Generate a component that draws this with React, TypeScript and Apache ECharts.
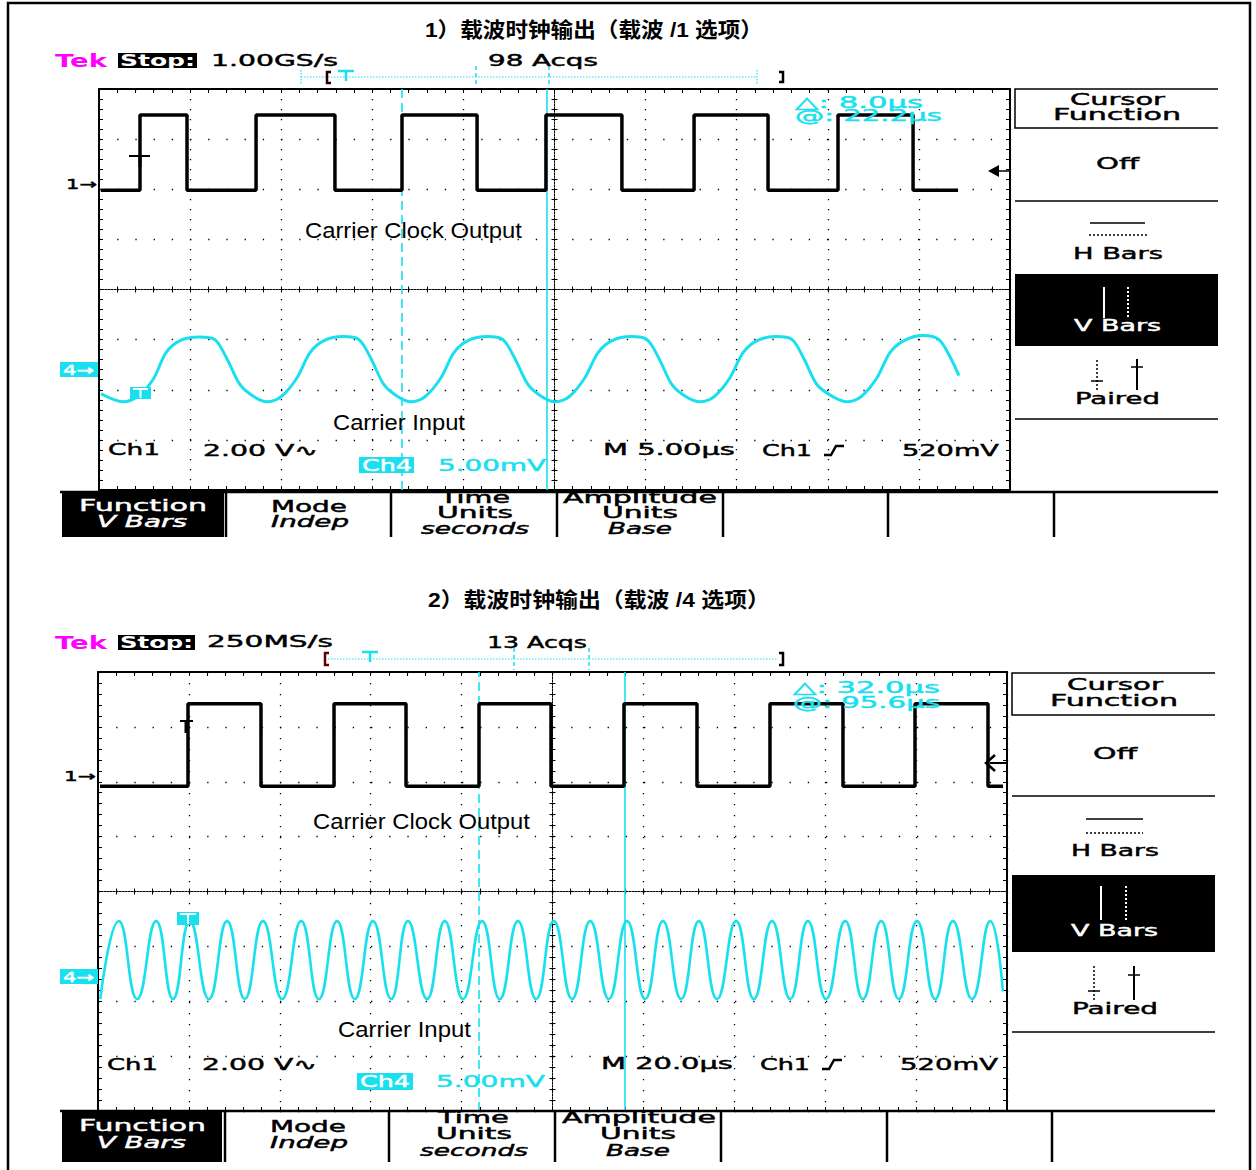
import React, { useEffect, useRef } from 'react';
import * as echarts from 'echarts';

// ---------------- Data ----------------
// Time in µs from the screen centre, levels in vertical divisions (8 div screen).
// Panel 1: M 5.00 µs/div
const p1Ch1EdgeTimes = [-24.9, -22.75, -20.17, -16.38, -12.05, -8.37, -4.25, -0.47, 3.7, 7.66, 11.72, 15.56, 19.68, 22.15];
const p1Ch1Levels = [1.98, 3.48, 1.98, 3.48, 1.98, 3.48, 1.98, 3.48, 1.98, 3.48, 1.98, 3.48, 1.98, 1.98];
const p1Ch4Times = [
  -24.89, -23.68, -22.91, -22.04, -21.32, -20.55, -19.51, -18.64, -17.98, -17.26, -16.49,
  -15.78, -15.01, -14.13, -13.42, -12.65, -11.61, -10.73, -10.07, -9.36, -8.59,
  -7.88, -7.11, -6.23, -5.52, -4.75, -3.7, -2.83, -2.17, -1.45, -0.69,
  0.03, 0.8, 1.67, 2.39, 3.16, 4.2, 5.08, 5.74, 6.45, 7.22,
  7.99, 8.76, 9.63, 10.35, 11.12, 12.16, 13.04, 13.69, 14.41, 15.29,
  16.05, 16.82, 17.7, 18.41, 19.18, 20.22, 21.1, 21.76, 22.2,
];
const p1Ch4Levels = [
  -2.08, -2.24, -2.14, -1.8, -1.26, -1.02, -0.95, -1.0, -1.38, -1.9, -2.14,
  -2.24, -2.14, -1.76, -1.26, -1.02, -0.94, -1.0, -1.38, -1.9, -2.14,
  -2.24, -2.14, -1.76, -1.26, -1.02, -0.94, -1.0, -1.38, -1.9, -2.14,
  -2.24, -2.14, -1.76, -1.26, -1.02, -0.94, -1.0, -1.38, -1.9, -2.14,
  -2.24, -2.14, -1.76, -1.26, -1.02, -0.94, -1.0, -1.38, -1.9, -2.14,
  -2.24, -2.14, -1.76, -1.26, -1.02, -0.92, -1.0, -1.38, -1.72,
];
const p1CursorTimes = [-8.4, -0.4];

// Panel 2: M 20.0 µs/div
const p2Ch1EdgeTimes = [-99.56, -80.2, -64.14, -48.07, -32.23, -16.17, -0.33, 15.73, 31.79, 47.85, 63.91, 79.76, 95.82, 99.12];
const p2Ch1Levels = [1.92, 3.42, 1.92, 3.42, 1.92, 3.42, 1.92, 3.42, 1.92, 3.42, 1.92, 3.42, 1.92, 1.92];
const p2Ch4PeakTimes = [-95.4, -87.2, -79.8, -71.6, -63.7, -55.3, -47.4, -39.5, -31.8, -23.7, -15.5, -7.6, 0.3, 8.3, 16.4, 24.3, 32.2, 40.4, 48.3, 56.2, 64.4, 72.3, 80.2, 88.1, 96.3];
const p2Ch4TroughTimes = [-99.5, -91.4, -83.5, -75.6, -67.7, -59.5, -51.4, -43.5, -35.5, -27.6, -19.7, -11.6, -3.6, 4.3, 12.4, 20.4, 28.3, 36.2, 44.3, 52.3, 60.2, 68.3, 76.2, 84.2, 92.3];
const p2Ch4PeakLevel = -0.54;
const p2Ch4TroughLevel = -1.96;
const p2Ch4EndPoint = [99.1, -1.82];
const p2CursorTimes = [-16.2, 15.8];

// ---------------- Styling helpers ----------------
const CYAN = '#18e0ee';
const MAGENTA = '#ff00ff';
const SCOPE = "'DejaVu Sans'";
const ARIAL = "'Liberation Sans'";
const CJK = "'Liberation Sans','Noto Sans CJK SC'";

let mctx: CanvasRenderingContext2D | null = null;
function measure(text: string, font: string) {
  if (!mctx) mctx = document.createElement('canvas').getContext('2d');
  if (!mctx) return 0;
  mctx.font = font;
  return mctx.measureText(text).width;
}

type TOpt = { size?: number; color?: string; weight?: string; italic?: boolean; family?: string; z?: number; stroke?: number };
function txt(text: string, x: number, y: number, w: number, o: TOpt = {}) {
  const font = `${o.italic ? 'italic' : 'normal'} ${o.weight ?? 'normal'} ${o.size ?? 16}px ${o.family ?? SCOPE}`;
  const m = measure(text, font) || w;
  const color = o.color ?? '#000';
  const style: any = {
    text, font, fill: color,
    textAlign: 'left', textVerticalAlign: 'middle', align: 'left', verticalAlign: 'middle',
  };
  const sw = o.stroke ?? 0.45;
  if (sw > 0) {
    style.stroke = color;
    style.lineWidth = sw;
  }
  return { type: 'text', x, y, scaleX: w / m, z: o.z ?? 110, silent: true, style };
}
function ln(x1: number, y1: number, x2: number, y2: number, color = '#000', width = 1.5, dash?: number[], z = 105) {
  const style: any = { stroke: color, lineWidth: width };
  if (dash) style.lineDash = dash;
  return { type: 'line', z, silent: true, shape: { x1, y1, x2, y2 }, style };
}
function box(x: number, y: number, width: number, height: number, fill: string, z = 105) {
  return { type: 'rect', z, silent: true, shape: { x, y, width, height }, style: { fill } };
}
function poly(points: number[][], color = '#000', width = 1.5, z = 105) {
  return { type: 'polyline', z, silent: true, shape: { points }, style: { stroke: color, lineWidth: width, fill: null } };
}

function buildGraphics() {
  const g: any[] = [];
  // outer frame
  g.push({ type: 'rect', z: 100, silent: true, shape: { x: 8, y: 3, width: 1242, height: 1200 }, style: { fill: null, stroke: '#000', lineWidth: 2.5 } });

  // ======== Panel 1 ========
  g.push(txt('1）载波时钟输出（载波 /1 选项）', 425, 30, 338, { size: 21, family: CJK, weight: 'bold', stroke: 0 }));
  g.push(txt('Tek', 55, 60, 52, { color: MAGENTA, size: 18, weight: 'bold', stroke: 0 }));
  g.push(box(118, 53, 79, 15, '#000'));
  g.push(txt('Stop:', 120, 60.5, 75, { color: '#fff', z: 111, weight: 'bold', stroke: 0 }));
  g.push(txt('1.00GS/s', 211, 60, 127));
  g.push(txt('98 Acqs', 488, 60, 110));
  g.push(ln(301, 77, 757, 77, CYAN, 1.2, [1.5, 1.5]));
  g.push(ln(301, 70, 301, 84, CYAN, 1.2, [1.5, 1.5]));
  g.push(ln(757, 70, 757, 84, CYAN, 1.2, [1.5, 1.5]));
  g.push(ln(476, 66, 476, 87, CYAN, 1.5, [4, 3]));
  g.push(ln(549, 66, 549, 87, CYAN, 1.5, [4, 3]));
  g.push(poly([[331, 72], [327, 72], [327, 83], [331, 83]], '#200', 2.5));
  g.push(ln(338, 71, 354, 71, CYAN, 2.5));
  g.push(ln(346, 71, 346, 81, CYAN, 2.5));
  g.push(poly([[779, 72], [783, 72], [783, 82], [779, 82]], '#000', 2.5));

  g.push(txt('1→', 66, 184, 31, { size: 14 }));
  g.push(box(60, 362, 38, 15, CYAN));
  g.push(txt('4→', 63, 369.5, 31, { size: 14, color: '#fff', z: 111 }));
  g.push({ type: 'polygon', z: 105, silent: true, shape: { points: [[988, 171], [999, 165], [999, 177]] }, style: { fill: '#000' } });
  g.push(ln(998, 171, 1009, 171));
  // trigger glyphs on the traces
  g.push(ln(129, 156, 150, 156, '#000', 2));
  g.push(ln(140, 156, 140, 167, '#000', 3));
  g.push(box(130, 387, 21, 12, CYAN));
  g.push(ln(133, 389, 148, 389, '#fff', 2, undefined, 106));
  g.push(ln(140.5, 389, 140.5, 398, '#fff', 2, undefined, 106));

  g.push(txt('△: 8.0µs', 795, 102, 128, { color: CYAN }));
  g.push(txt('@: 22.2µs', 795, 116, 147, { color: CYAN }));
  g.push(txt('Carrier Clock Output', 305, 230, 217, { family: ARIAL, size: 22, stroke: 0 }));
  g.push(txt('Carrier Input', 333, 422, 132, { family: ARIAL, size: 22, stroke: 0 }));

  g.push(txt('Ch1', 108, 450, 52));
  g.push(txt('2.00 V∿', 203, 450, 115));
  g.push(box(359, 457, 55, 16, CYAN));
  g.push(txt('Ch4', 362, 465, 50, { color: '#fff', z: 111 }));
  g.push(txt('5.00mV', 438, 465, 108, { color: CYAN }));
  g.push(txt('M 5.00µs', 603, 450, 132));
  g.push(txt('Ch1', 762, 450, 50));
  g.push(poly([[824, 455], [831, 455], [836, 446], [844, 446]], '#000', 2.5));
  g.push(txt('520mV', 902, 450, 97));

  // right menu 1
  g.push(poly([[1218, 89], [1015, 89], [1015, 128], [1218, 128]], '#000', 1.5));
  g.push(txt('Cursor', 1070, 100, 95));
  g.push(txt('Function', 1053, 115, 128));
  g.push(txt('Off', 1096, 164, 43));
  g.push(ln(1015, 201, 1218, 201));
  g.push(ln(1090, 223, 1145, 223));
  g.push(ln(1089, 235, 1147, 235, '#000', 1.5, [2, 2]));
  g.push(txt('H Bars', 1073, 253, 90));
  g.push(box(1015, 274, 203, 72, '#000'));
  g.push(ln(1104, 287, 1104, 318, '#fff', 2, undefined, 111));
  g.push(ln(1128, 287, 1128, 318, '#fff', 2, [2, 2], 111));
  g.push(txt('V Bars', 1074, 325, 87, { color: '#fff', z: 111 }));
  g.push(ln(1097, 360, 1097, 390, '#000', 1.5, [2, 2]));
  g.push(ln(1091, 381, 1103, 381));
  g.push(ln(1137, 359, 1137, 390, '#000', 2));
  g.push(ln(1131, 367, 1143, 367));
  g.push(txt('Paired', 1075, 398, 85));
  g.push(ln(1015, 419, 1218, 419));

  // bottom menu 1
  g.push(ln(60, 492, 1218, 492, '#000', 2.5));
  g.push(box(62, 493, 162, 44, '#000'));
  g.push(txt('Function', 79, 506, 128, { color: '#fff', z: 111 }));
  g.push(txt('V Bars', 97, 521, 90, { color: '#fff', italic: true, z: 111 }));
  [226, 391, 557, 723, 888, 1054].forEach((x) => g.push(ln(x, 492, x, 537, '#000', 2.5)));
  g.push(txt('Mode', 271, 506, 76));
  g.push(txt('Indep', 271, 521, 78, { italic: true }));
  g.push(txt('Time', 440, 498, 70, { size: 15 }));
  g.push(txt('Units', 437, 513, 76, { size: 15 }));
  g.push(txt('seconds', 421, 529, 108, { size: 15, italic: true }));
  g.push(txt('Amplitude', 563, 498, 154, { size: 15 }));
  g.push(txt('Units', 602, 513, 76, { size: 15 }));
  g.push(txt('Base', 608, 529, 64, { size: 15, italic: true }));

  // ======== Panel 2 ========
  g.push(txt('2）载波时钟输出（载波 /4 选项）', 428, 600, 342, { size: 21, family: CJK, weight: 'bold', stroke: 0 }));
  g.push(txt('Tek', 55, 642, 52, { color: MAGENTA, size: 18, weight: 'bold', stroke: 0 }));
  g.push(box(118, 635, 77, 15, '#000'));
  g.push(txt('Stop:', 120, 642.5, 73, { color: '#fff', z: 111, weight: 'bold', stroke: 0 }));
  g.push(txt('250MS/s', 207, 642, 126));
  g.push(txt('13 Acqs', 487, 642, 100));
  g.push(ln(328, 659, 778, 659, CYAN, 1.2, [1.5, 1.5]));
  g.push(ln(514, 648, 514, 670, CYAN, 1.5, [4, 3]));
  g.push(ln(589, 648, 589, 670, CYAN, 1.5, [4, 3]));
  g.push(poly([[329, 653], [325, 653], [325, 665], [329, 665]], '#600', 2.5));
  g.push(ln(362, 652, 378, 652, CYAN, 2.5));
  g.push(ln(370, 652, 370, 662, CYAN, 2.5));
  g.push(poly([[779, 653], [783, 653], [783, 665], [779, 665]], '#000', 2.5));

  g.push(txt('1→', 64, 776, 32, { size: 14 }));
  g.push(box(60, 969, 38, 15, CYAN));
  g.push(txt('4→', 63, 976.5, 31, { size: 14, color: '#fff', z: 111 }));
  g.push(poly([[995, 755], [986, 763], [995, 771]], '#000', 2.5));
  g.push(ln(990, 763, 1006, 763, '#000', 2));
  g.push(ln(180, 721, 193, 721, '#000', 2));
  g.push(ln(186, 721, 186, 733, '#000', 3));
  g.push(box(177, 912, 22, 13, CYAN));
  g.push(ln(180, 914, 196, 914, '#fff', 2, undefined, 106));
  g.push(ln(188, 914, 188, 924, '#fff', 2, undefined, 106));

  g.push(txt('△: 32.0µs', 793, 687, 147, { color: CYAN }));
  g.push(txt('@: 95.6µs', 793, 703, 147, { color: CYAN }));
  g.push(txt('Carrier Clock Output', 313, 821, 217, { family: ARIAL, size: 22, stroke: 0 }));
  g.push(txt('Carrier Input', 338, 1029, 133, { family: ARIAL, size: 22, stroke: 0 }));

  g.push(txt('Ch1', 107, 1064, 51));
  g.push(txt('2.00 V∿', 202, 1064, 115));
  g.push(box(357, 1073, 56, 17, CYAN));
  g.push(txt('Ch4', 360, 1081.5, 50, { color: '#fff', z: 111 }));
  g.push(txt('5.00mV', 436, 1081, 109, { color: CYAN }));
  g.push(txt('M 20.0µs', 601, 1064, 132));
  g.push(txt('Ch1', 760, 1064, 50));
  g.push(poly([[822, 1069], [829, 1069], [834, 1060], [842, 1060]], '#000', 2.5));
  g.push(txt('520mV', 900, 1064, 98));

  // right menu 2
  g.push(poly([[1215, 673], [1012, 673], [1012, 715], [1215, 715]], '#000', 1.5));
  g.push(txt('Cursor', 1067, 685, 96));
  g.push(txt('Function', 1050, 701, 128));
  g.push(txt('Off', 1093, 754, 44));
  g.push(ln(1012, 796, 1215, 796));
  g.push(ln(1086, 819, 1143, 819));
  g.push(ln(1086, 833, 1143, 833, '#000', 1.5, [2, 2]));
  g.push(txt('H Bars', 1071, 851, 88));
  g.push(box(1012, 875, 203, 77, '#000'));
  g.push(ln(1101, 886, 1101, 920, '#fff', 2, undefined, 111));
  g.push(ln(1126, 886, 1126, 920, '#fff', 2, [2, 2], 111));
  g.push(txt('V Bars', 1071, 930, 87, { color: '#fff', z: 111 }));
  g.push(ln(1094, 966, 1094, 1000, '#000', 1.5, [2, 2]));
  g.push(ln(1088, 991, 1100, 991));
  g.push(ln(1134, 966, 1134, 1000, '#000', 2));
  g.push(ln(1128, 975, 1140, 975));
  g.push(txt('Paired', 1072, 1008, 86));
  g.push(ln(1012, 1032, 1215, 1032));

  // bottom menu 2
  g.push(ln(60, 1111, 1215, 1111, '#000', 2.5));
  g.push(box(62, 1112, 160, 50, '#000'));
  g.push(txt('Function', 79, 1126, 127, { color: '#fff', z: 111 }));
  g.push(txt('V Bars', 97, 1142, 89, { color: '#fff', italic: true, z: 111 }));
  [225, 389, 555, 721, 887, 1052].forEach((x) => g.push(ln(x, 1111, x, 1162, '#000', 2.5)));
  g.push(txt('Mode', 270, 1126, 76));
  g.push(txt('Indep', 270, 1142, 78, { italic: true }));
  g.push(txt('Time', 438, 1118, 71, { size: 15 }));
  g.push(txt('Units', 436, 1134, 76, { size: 15 }));
  g.push(txt('seconds', 420, 1151, 108, { size: 15, italic: true }));
  g.push(txt('Amplitude', 562, 1118, 154, { size: 15 }));
  g.push(txt('Units', 600, 1134, 76, { size: 15 }));
  g.push(txt('Base', 606, 1151, 64, { size: 15, italic: true }));
  return g;
}

// ---------------- Axes ----------------
const BLACK = { color: '#000' };
function xAxesFor(gridIndex: number, min: number, max: number, interval: number, yZero: number, dotGap: number) {
  const base = { type: 'value', gridIndex, min, max, interval, axisLabel: { show: false } };
  const border = {
    axisTick: { show: true, inside: true, length: 4, lineStyle: BLACK },
    minorTick: { show: true, splitNumber: 5, length: 4, lineStyle: BLACK },
  };
  const centre = {
    axisTick: { show: true, inside: false, length: 3, lineStyle: BLACK },
    minorTick: { show: true, splitNumber: 5, length: 3, lineStyle: BLACK },
    splitLine: { show: false },
  };
  return [
    { ...base, ...border, position: 'bottom', axisLine: { onZero: false, lineStyle: { color: '#000', width: 2 } },
      splitLine: { show: true, lineStyle: { color: '#000', width: 1.3, type: [1.3, dotGap] } } },
    { ...base, ...border, position: 'top', axisLine: { onZero: false, lineStyle: { color: '#000', width: 2 } }, splitLine: { show: false } },
    { ...base, ...centre, position: 'bottom', axisLine: { onZero: true, onZeroAxisIndex: yZero, lineStyle: { color: '#000', width: 1, type: [1.5, 1.5] } } },
    { ...base, ...centre, position: 'top', axisLine: { onZero: true, onZeroAxisIndex: yZero, lineStyle: { color: '#000', width: 1, type: [1.5, 1.5] } } },
  ];
}
function yAxesFor(gridIndex: number, xZero: number, dotGap: number) {
  const base = { type: 'value', gridIndex, min: -4, max: 4, interval: 1, axisLabel: { show: false } };
  const border = {
    axisTick: { show: true, inside: true, length: 4, lineStyle: BLACK },
    minorTick: { show: true, splitNumber: 5, length: 4, lineStyle: BLACK },
  };
  const centre = {
    axisTick: { show: true, inside: false, length: 3, lineStyle: BLACK },
    minorTick: { show: true, splitNumber: 5, length: 3, lineStyle: BLACK },
    splitLine: { show: false },
  };
  return [
    { ...base, ...border, position: 'left', axisLine: { onZero: false, lineStyle: { color: '#000', width: 2 } },
      splitLine: { show: true, lineStyle: { color: '#000', width: 1.3, type: [1.3, dotGap] } } },
    { ...base, ...border, position: 'right', axisLine: { onZero: false, lineStyle: { color: '#000', width: 2 } }, splitLine: { show: false } },
    { ...base, ...centre, position: 'left', axisLine: { onZero: true, onZeroAxisIndex: xZero, lineStyle: { color: '#000', width: 1, type: [1.5, 1.5] } } },
    { ...base, ...centre, position: 'right', axisLine: { onZero: true, onZeroAxisIndex: xZero, lineStyle: { color: '#000', width: 1, type: [1.5, 1.5] } } },
  ];
}

function zip(a: number[], b: number[]) {
  return a.map((v, i) => [v, b[i]]);
}
function cursorLines(times: number[]) {
  return {
    silent: true, symbol: ['none', 'none'], label: { show: false }, animation: false,
    data: [
      { xAxis: times[0], lineStyle: { color: CYAN, width: 1.6, type: [9, 5] } },
      { xAxis: times[1], lineStyle: { color: CYAN, width: 1.6, type: 'solid' } },
    ],
  };
}

function buildOption() {
  const p2Ch4 = [
    ...p2Ch4PeakTimes.map((t) => [t, p2Ch4PeakLevel]),
    ...p2Ch4TroughTimes.map((t) => [t, p2Ch4TroughLevel]),
    p2Ch4EndPoint,
  ].sort((a, b) => a[0] - b[0]);

  return {
    animation: false,
    backgroundColor: '#fff',
    grid: [
      { left: 99, top: 89, width: 911, height: 401 },
      { left: 98, top: 672, width: 909, height: 439 },
    ],
    xAxis: [...xAxesFor(0, -25, 25, 5, 0, 8.7), ...xAxesFor(1, -100, 100, 20, 4, 9.7)],
    yAxis: [...yAxesFor(0, 0, 16.9), ...yAxesFor(1, 4, 16.9)],
    graphic: { elements: buildGraphics() },
    series: [
      {
        type: 'line', name: 'Ch1 /1', xAxisIndex: 0, yAxisIndex: 0, step: 'end', symbol: 'none', silent: true,
        data: zip(p1Ch1EdgeTimes, p1Ch1Levels), lineStyle: { color: '#000', width: 3.5 }, z: 5,
      },
      {
        type: 'line', name: 'Ch4 /1', xAxisIndex: 0, yAxisIndex: 0, smooth: 0.3, symbol: 'none', silent: true,
        data: zip(p1Ch4Times, p1Ch4Levels), lineStyle: { color: CYAN, width: 3 }, z: 4,
        markLine: cursorLines(p1CursorTimes),
      },
      {
        type: 'line', name: 'Ch1 /4', xAxisIndex: 4, yAxisIndex: 4, step: 'end', symbol: 'none', silent: true,
        data: zip(p2Ch1EdgeTimes, p2Ch1Levels), lineStyle: { color: '#000', width: 3.5 }, z: 5,
      },
      {
        type: 'line', name: 'Ch4 /4', xAxisIndex: 4, yAxisIndex: 4, smooth: 0.5, symbol: 'none', silent: true,
        data: p2Ch4, lineStyle: { color: CYAN, width: 2.6 }, z: 4,
        markLine: cursorLines(p2CursorTimes),
      },
    ],
  };
}

export default function App() {
  const ref = useRef<HTMLDivElement>(null);
  useEffect(() => {
    if (!ref.current) return;
    const chart = echarts.init(ref.current, undefined, { renderer: 'svg' });
    chart.setOption(buildOption() as any);
    return () => chart.dispose();
  }, []);
  return (
    <div
      ref={ref}
      style={{ position: 'absolute', left: 0, top: 0, width: 1256, height: 1170, background: '#fff' }}
    />
  );
}
